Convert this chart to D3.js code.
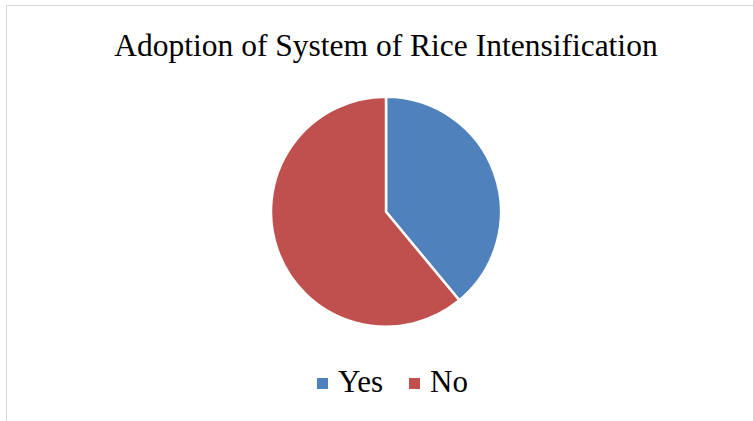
<!DOCTYPE html>
<html>
<head>
<meta charset="utf-8">
<script src="https://cdn.jsdelivr.net/npm/d3@7/dist/d3.min.js"></script>
<style>
  html, body { margin: 0; padding: 0; background: #fff; }
  svg { display: block; }
</style>
</head>
<body>
<svg id="chart" width="753" height="421"></svg>
<script>
// Survey answers on SRI adoption
const categories = ["Yes", "No"];
const values = [39, 61];
const colors = ["#4F81BD", "#C0504D"];
const title = "Adoption of System of Rice Intensification";

const svg = d3.select("#chart");
const W = 753, H = 421;
const serif = "'Liberation Serif', 'Times New Roman', serif";

// Chart area frame (extends past the right and bottom edges)
svg.append("rect")
  .attr("x", 6.5).attr("y", 5.5)
  .attr("width", W + 20).attr("height", H + 20)
  .attr("fill", "#fff")
  .attr("stroke", "#d9d9d9")
  .attr("stroke-width", 1);

svg.append("text")
  .attr("x", 386).attr("y", 56)
  .attr("text-anchor", "middle")
  .attr("font-family", serif)
  .attr("font-size", 31.5)
  .attr("fill", "#000")
  .text(title);

const cx = 386, cy = 211.7, r = 115;
const pie = d3.pie().sort(null).value(d => d.value);
const arc = d3.arc().innerRadius(0).outerRadius(r);
const data = categories.map((c, i) => ({ name: c, value: values[i] }));

svg.append("g")
  .attr("transform", `translate(${cx},${cy})`)
  .selectAll("path")
  .data(pie(data))
  .join("path")
  .attr("d", arc)
  .attr("fill", (d, i) => colors[i])
  .attr("stroke", "#fff")
  .attr("stroke-width", 2.5)
  .attr("stroke-linejoin", "round");

// Legend
const legendX = [317, 409];
const lg = svg.append("g");
categories.forEach((c, i) => {
  lg.append("rect")
    .attr("x", legendX[i]).attr("y", 378)
    .attr("width", 11).attr("height", 11)
    .attr("fill", colors[i]);
  lg.append("text")
    .attr("x", legendX[i] + 21).attr("y", 392)
    .attr("font-family", serif)
    .attr("font-size", 31)
    .attr("fill", "#000")
    .text(c);
});
</script>
</body>
</html>
